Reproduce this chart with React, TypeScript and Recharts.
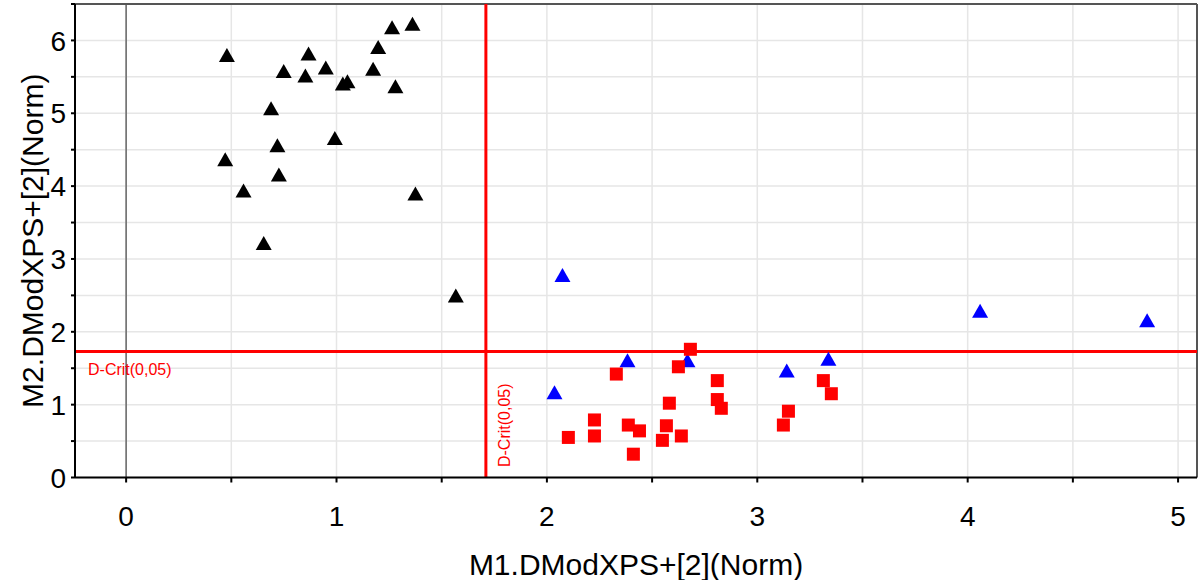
import React from 'react';
import { ScatterChart, Scatter, XAxis, YAxis, CartesianGrid, ReferenceLine, Label } from 'recharts';

// axis setup
const xTicks = [0, 0.5, 1, 1.5, 2, 2.5, 3, 3.5, 4, 4.5, 5];
const yTicks = [0, 0.5, 1, 1.5, 2, 2.5, 3, 3.5, 4, 4.5, 5, 5.5, 6, 6.5];
const xDomain = [-0.243, 5.09];
const yDomain = [0, 6.5];

// critical limits
const dCritX = 1.71;
const dCritY = 1.73;
const critLabel = 'D-Crit(0,05)';

// black triangles
const blackX = [0.479, 0.471, 0.558, 0.654, 0.689, 0.719, 0.726, 0.749, 0.852, 0.867, 0.949, 0.992, 1.03, 1.052, 1.174, 1.198, 1.264, 1.28, 1.361, 1.375, 1.567];
const blackY = [5.8, 4.37, 3.94, 3.22, 5.07, 4.56, 4.16, 5.58, 5.52, 5.82, 5.63, 4.66, 5.41, 5.44, 5.61, 5.91, 6.18, 5.37, 6.23, 3.9, 2.5];

// blue triangles
const blueX = [2.074, 2.036, 2.383, 2.668, 3.14, 3.338, 4.059, 4.853];
const blueY = [2.78, 1.17, 1.61, 1.61, 1.47, 1.63, 2.29, 2.16];

// red squares
const redX = [2.102, 2.226, 2.226, 2.33, 2.387, 2.44, 2.411, 2.549, 2.568, 2.582, 2.625, 2.639, 2.682, 2.81, 2.81, 2.829, 3.124, 3.148, 3.314, 3.352];
const redY = [0.55, 0.79, 0.57, 1.42, 0.72, 0.64, 0.32, 0.51, 0.71, 1.02, 1.52, 0.57, 1.76, 1.33, 1.07, 0.95, 0.72, 0.91, 1.33, 1.15];

const zip = (xs: number[], ys: number[]) => xs.map((x, i) => ({ x, y: ys[i] }));

const font = "'Liberation Sans', Arial, sans-serif";

const triangle = (color: string) => (props: any) => {
  const { cx, cy } = props;
  const w = 16;
  const h = 14;
  return (
    <polygon
      points={`${cx},${cy - h / 2} ${cx - w / 2},${cy + h / 2} ${cx + w / 2},${cy + h / 2}`}
      fill={color}
    />
  );
};

const square = (props: any) => {
  const { cx, cy } = props;
  return <rect x={cx - 6.5} y={cy - 6.5} width={13} height={13} fill="#ff0000" />;
};

const XTick = (props: any) => {
  const { x, y, payload } = props;
  if (!Number.isInteger(payload.value)) return null;
  return (
    <text x={x} y={y} dy="0.71em" textAnchor="middle" fontSize={28} fontFamily={font} fill="#000">
      {payload.value}
    </text>
  );
};

const YTick = (props: any) => {
  const { x, y, payload } = props;
  if (!Number.isInteger(payload.value)) return null;
  return (
    <text x={x} y={y} dy="0.36em" textAnchor="end" fontSize={28} fontFamily={font} fill="#000">
      {payload.value}
    </text>
  );
};

const HCritLabel = (props: any) => {
  const { viewBox } = props;
  return (
    <text x={viewBox.x + 13} y={viewBox.y + 24} fontSize={16} fontFamily={font} fill="#ff0000">
      {critLabel}
    </text>
  );
};

const VCritLabel = (props: any) => {
  const { viewBox } = props;
  const tx = viewBox.x + 24.5;
  const ty = viewBox.y + viewBox.height - 10.5;
  return (
    <text x={tx} y={ty} transform={`rotate(-90, ${tx}, ${ty})`} fontSize={16} fontFamily={font} fill="#ff0000">
      {critLabel}
    </text>
  );
};

const YTitle = (props: any) => {
  const { viewBox } = props;
  const tx = 43;
  const ty = viewBox.y + viewBox.height / 2;
  return (
    <text x={tx} y={ty} transform={`rotate(-90, ${tx}, ${ty})`} textAnchor="middle" fontSize={30} fontFamily={font} fill="#000">
      M2.DModXPS+[2](Norm)
    </text>
  );
};

export default function App() {
  return (
    <div style={{ position: 'absolute', left: 0, top: 0, background: '#fff' }}>
      <ScatterChart width={1200} height={580} margin={{ top: 4, right: 3, left: 0, bottom: 0 }}>
        <CartesianGrid stroke="#e6e6e6" strokeWidth={1.5} />
        <XAxis
          type="number"
          dataKey="x"
          domain={xDomain}
          ticks={xTicks}
          interval={0}
          allowDataOverflow
          height={102.5}
          stroke="#000"
          strokeWidth={2}
          tickSize={5}
          tickMargin={24}
          tick={<XTick />}
        >
          <Label
            value="M1.DModXPS+[2](Norm)"
            position="insideBottom"
            offset={5}
            style={{ fontSize: 30, fontFamily: font, fill: '#000' }}
          />
        </XAxis>
        <YAxis
          type="number"
          dataKey="y"
          domain={yDomain}
          ticks={yTicks}
          interval={0}
          allowDataOverflow
          width={75}
          stroke="#000"
          strokeWidth={2}
          tickSize={4}
          tickMargin={5}
          tick={<YTick />}
        >
          <Label content={<YTitle />} />
        </YAxis>
        <ReferenceLine x={0} stroke="#666" strokeWidth={1.5} />
        <ReferenceLine y={yDomain[1]} stroke="#555" strokeWidth={2} />
        <ReferenceLine x={xDomain[1]} stroke="#555" strokeWidth={2} />
        <ReferenceLine y={dCritY} stroke="#ff0000" strokeWidth={3} label={<HCritLabel />} />
        <ReferenceLine x={dCritX} stroke="#ff0000" strokeWidth={3} label={<VCritLabel />} />
        <Scatter data={zip(blackX, blackY)} shape={triangle('#000000')} isAnimationActive={false} />
        <Scatter data={zip(blueX, blueY)} shape={triangle('#0000ff')} isAnimationActive={false} />
        <Scatter data={zip(redX, redY)} shape={square} isAnimationActive={false} />
      </ScatterChart>
    </div>
  );
}
